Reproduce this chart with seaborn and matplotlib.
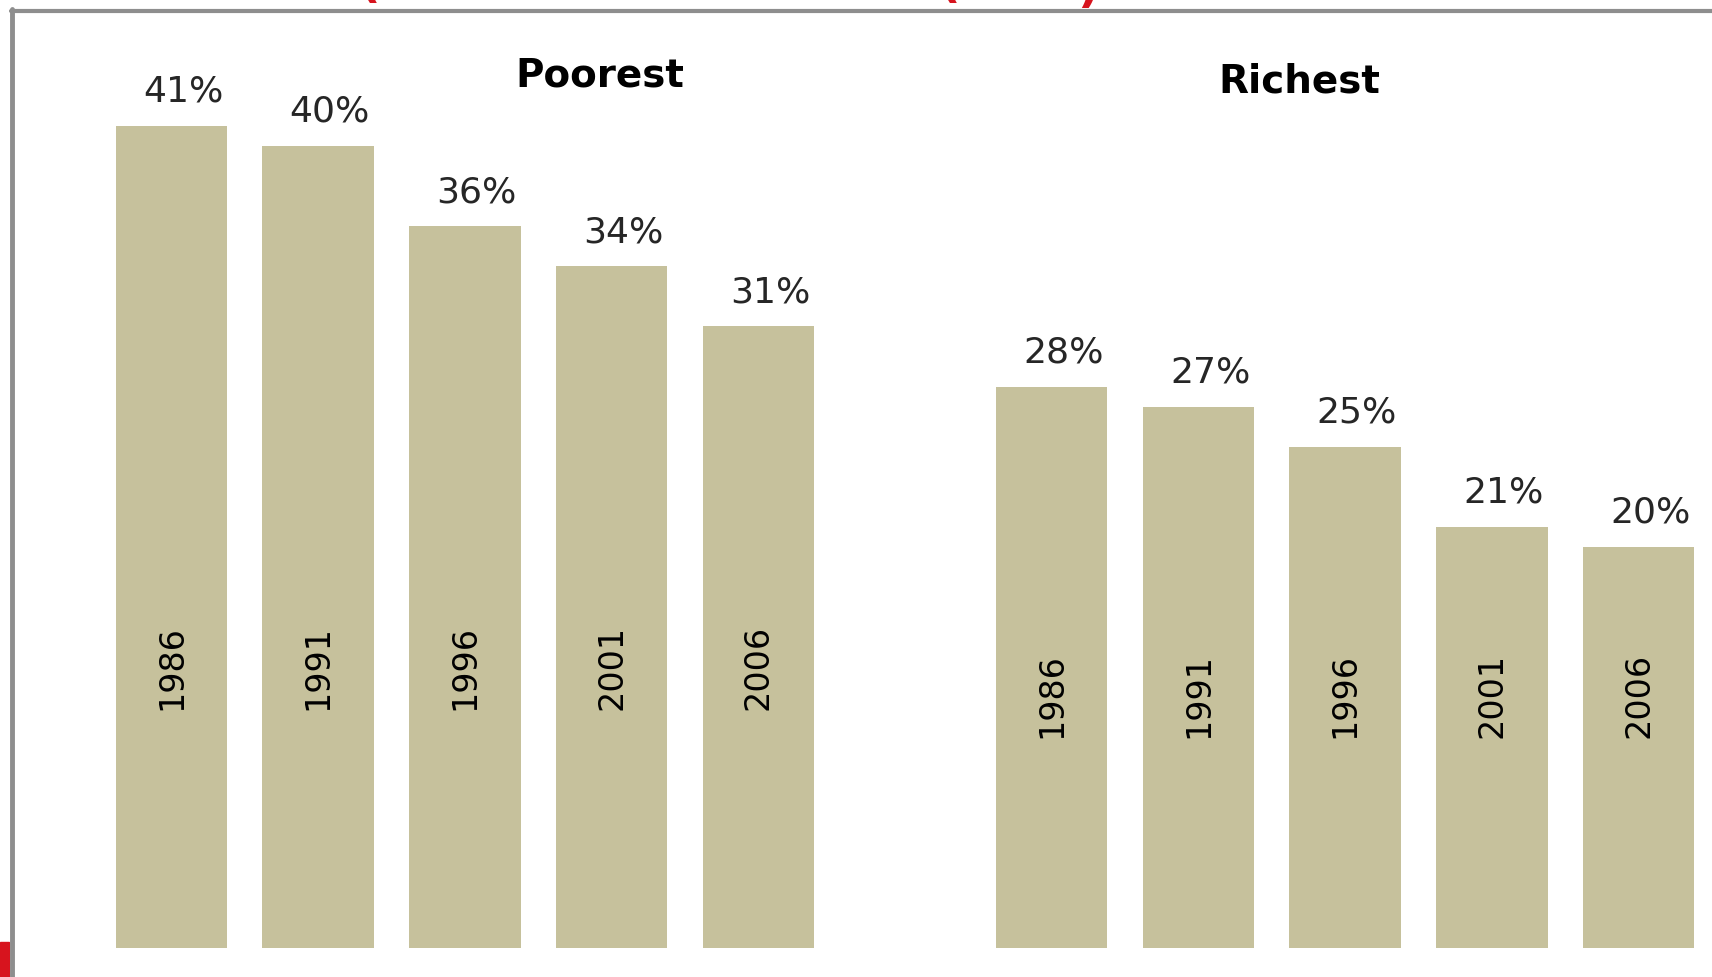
import matplotlib
matplotlib.use("Agg")
import matplotlib.pyplot as plt
from matplotlib.lines import Line2D
from matplotlib.patches import Rectangle
from matplotlib import font_manager
import seaborn as sns
import pandas as pd

# Share of income (%) by survey year
years = ["1986", "1991", "1996", "2001", "2006"]
poorest = [41, 40, 36, 34, 31]
richest = [28, 27, 25, 21, 20]
groups = ["Poorest", "Richest"]

BAR = "#c6c19c"
GRAY = "#8e8e8e"
RED = "#d7141e"

sns.set_theme(style="white")
plt.rcParams["font.family"] = ["DejaVu Sans"]

# narrow face for the year labels, if one is installed
installed = {f.name for f in font_manager.fontManager.ttflist}
narrow = next((n for n in ["Liberation Sans Narrow", "DejaVu Sans Condensed"]
               if n in installed), "DejaVu Sans")
narrow_size = 29 if narrow != "DejaVu Sans" else 24

rows = []
for g, vals in zip(groups, [poorest, richest]):
    for y, v in zip(years, vals):
        rows.append({"slot": f"{g} {y}", "group": g, "year": y, "value": v})
df = pd.DataFrame(rows)

# one empty slot separates the two groups
order = [f"Poorest {y}" for y in years] + ["gap"] + [f"Richest {y}" for y in years]

fig = plt.figure(figsize=(17.12, 9.77), dpi=100)
ax = fig.add_axes([0, 0, 1, 1])
sns.barplot(data=df, x="slot", y="value", order=order, color=BAR,
            width=0.76, saturation=1, linewidth=0, ax=ax, errorbar=None)
ax.set_xlim(-1.168, 10.50)
ax.set_ylim(-1.45, 47.28)
ax.axis("off")

# value labels above each bar, year labels inside
year_y = {"Poorest": 14.0, "Richest": 12.6}
bars = [p for p in ax.patches if p.get_height() > 0]
for p, (_, r) in zip(bars, df.iterrows()):
    xc = p.get_x() + p.get_width() / 2
    h = p.get_height()
    ax.text(xc + 0.08, h + 1.7, f"{r['value']}%", ha="center", va="center",
            fontsize=26, color="#262626")
    ax.text(xc, year_y[r["group"]], r["year"], rotation=90, ha="center",
            va="center", fontsize=narrow_size, color="black", family=narrow)

ax.text(2.92, 43.5, "Poorest", ha="center", va="center", fontsize=28,
        fontweight="bold", color="black")
ax.text(7.69, 43.2, "Richest", ha="center", va="center", fontsize=28,
        fontweight="bold", color="black")

# slide frame: gray rule on top and left, red accent at bottom-left
W, H = 1712, 977
fig.add_artist(Line2D([11 / W, 1], [1 - 10.5 / H, 1 - 10.5 / H],
                      color=GRAY, lw=3, transform=fig.transFigure))
fig.add_artist(Line2D([11.5 / W, 11.5 / W], [0, 1 - 9 / H],
                      color=GRAY, lw=3.5, transform=fig.transFigure))
fig.add_artist(Rectangle((0, 0), 9 / W, 35 / H, color=RED,
                         transform=fig.transFigure))

# bottoms of the slide heading just above the frame
for xf, ch, yb in [(370, "(", 1), (950, "(", 1), (1088, ")", 6)]:
    fig.text(xf / W, 1 + (4 - yb) / H, ch, color=RED, fontsize=34,
             fontweight="bold", ha="center", va="baseline")

fig.savefig("out.png", dpi=100)
